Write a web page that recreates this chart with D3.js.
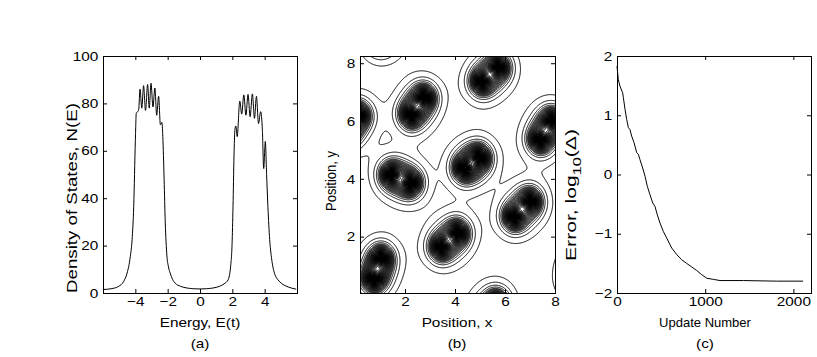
<!DOCTYPE html>
<html>
<head>
<meta charset="utf-8">
<script src="https://cdn.jsdelivr.net/npm/d3@7"></script>
<style>
  body { margin: 0; background: #fff; }
  svg text { font-family: "Liberation Sans", Arial, sans-serif; font-size: 13px; fill: #000; }
</style>
</head>
<body>
<div id="chart"></div>
<script>
// (a) density of states
var dosEnergy = [-5.95, -5.5, -5.03, -4.72, -4.51, -4.31, -4.2, -4.1, -4.0, -3.94, -3.85, -3.79, -3.71, -3.6, -3.49,
  -3.37, -3.24, -3.14, -3.03, -2.91, -2.79, -2.68, -2.56, -2.45, -2.36, -2.3, -2.26, -2.22, -2.15, -2.05, -1.95,
  -1.85, -1.7, -1.54, -1.2, -0.8, -0.4, 0, 0.4, 0.8, 1.2, 1.5, 1.74, 1.89, 1.99, 2.05, 2.11, 2.16, 2.22, 2.3, 2.46,
  2.58, 2.71, 2.84, 2.97, 3.1, 3.24, 3.37, 3.49, 3.62, 3.75, 3.86, 3.94, 4.04, 4.12, 4.2, 4.31, 4.42, 4.51, 4.65,
  4.82, 5.05, 5.33, 5.65, 5.95];
var dosValue = [1.5, 1.8, 2.8, 4.9, 8.4, 15.4, 22.5, 36.5, 64, 76, 76.5, 77.5, 86, 78, 87.5,
  77, 88, 78, 88.5, 78.5, 86.5, 75, 83, 71, 72, 66, 58, 48, 30, 16, 11,
  8.5, 5.8, 4.2, 2.8, 2.1, 1.8, 1.7, 1.8, 2.1, 2.8, 3.9, 5.6, 11, 22, 39, 60, 69, 70.5, 66, 81,
  75.5, 83.6, 75, 83.8, 74.4, 84, 73.7, 83, 71.5, 76.5, 68.5, 52.5, 64, 50, 36.5, 22.5, 15, 11, 7.5,
  5.6, 4.0, 2.9, 2.1, 1.6];
var energyTicks = [-4, -2, 0, 2, 4];
var dosTicks = [0, 20, 40, 60, 80, 100];

// (b) atom positions (pairs) for the density contours
var atomX = [2.74, 2.27, 5.7, 5.1, 7.86, 7.42, 4.94, 4.41, 1.47, 2.2, 6.99, 6.39, 4.08, 3.47, 1.04, 0.77,
  1.0, 1.5, 5.65, 5.15, 0.12, -0.35, 8.85, 9.15];
var atomY = [6.8, 6.23, 7.85, 7.37, 6.0, 5.36, 4.72, 4.38, 4.14, 3.85, 3.21, 2.69, 2.11, 1.65, 1.24, 0.54,
  8.85, 9.4, -0.3, -0.85, 6.2, 5.6, 0.55, 1.2];
var contourLevels = [0.065, 0.12, 0.165, 0.2, 0.23, 0.25, 0.27, 0.29, 0.31, 0.33, 0.35, 0.37, 0.39, 0.41,
  0.43, 0.45, 0.47, 0.49, 0.51, 0.53, 0.55, 0.57, 0.59, 0.61, 0.63, 0.65, 0.67, 0.69, 0.71, 0.73, 0.75,
  0.77, 0.79, 0.81, 0.83, 0.85, 0.87, 0.89, 0.91, 0.93, 0.95, 0.97, 0.99, 1.01, 1.03, 1.05, 1.07];
var posTicks = [2, 4, 6, 8];

// (c) convergence
var updateNum = [0, 15, 34, 64, 72, 91, 110, 129, 147, 166, 193, 223, 242, 261, 291, 318, 344, 374, 405, 431,
  457, 488, 525, 563, 620, 677, 734, 790, 847, 904, 960, 1017, 1093, 1168, 1434, 1812, 2110];
var errLog = [1.83, 1.6, 1.49, 1.38, 1.3, 1.1, 0.93, 0.79, 0.76, 0.65, 0.54, 0.37, 0.34, 0.25, 0.11, -0.03,
  -0.2, -0.34, -0.48, -0.54, -0.68, -0.82, -0.96, -1.07, -1.24, -1.35, -1.44, -1.5, -1.56, -1.62, -1.69,
  -1.75, -1.77, -1.79, -1.79, -1.8, -1.8];
var updateTicks = [0, 1000, 2000];
var errTicks = [-2, -1, 0, 1, 2];

(function () {
  var svg = d3.select("#chart").append("svg")
    .attr("width", 817)
    .attr("height", 357);
  svg.append("rect").attr("width", 817).attr("height", 357).attr("fill", "#fff");

  var plotY = 56, plotH = 237;
  var fmt = d3.format("");
  var stretch = "scale(1.18,1)"; // the original figure is a bit wider than tall

  function panel(left) {
    return svg.append("g").attr("transform", "translate(" + left + "," + plotY + ")");
  }

  // box with inward ticks on all four sides, like matlab
  function frame(g, x, y, xTicks, yTicks) {
    var w = x.range()[1], h = y.range()[0];
    g.append("g").attr("class", "axis").attr("transform", "translate(0," + h + ")")
      .call(d3.axisBottom(x).tickValues(xTicks).tickFormat(fmt).tickSizeInner(-4).tickSizeOuter(0).tickPadding(4))
      .selectAll("text").attr("transform", stretch);
    g.append("g").attr("class", "axis")
      .call(d3.axisTop(x).tickValues(xTicks).tickSizeInner(-4).tickSizeOuter(0).tickFormat(""));
    g.append("g").attr("class", "axis")
      .call(d3.axisLeft(y).tickValues(yTicks).tickFormat(fmt).tickSizeInner(-4).tickSizeOuter(0).tickPadding(4))
      .selectAll("text").attr("transform", stretch);
    g.append("g").attr("class", "axis").attr("transform", "translate(" + w + ",0)")
      .call(d3.axisRight(y).tickValues(yTicks).tickSizeInner(-4).tickSizeOuter(0).tickFormat(""));
    g.selectAll(".axis .domain").remove();
    g.append("rect")
      .attr("x", 0.5).attr("y", 0.5)
      .attr("width", w).attr("height", h)
      .attr("fill", "none").attr("stroke", "#000");
  }

  function labels(xCenter, xText, tag, yBase, yCenter, yText, xStretch) {
    svg.append("text").attr("transform", "translate(" + xCenter + ",327) " + xStretch)
      .attr("text-anchor", "middle").text(xText);
    svg.append("text").attr("transform", "translate(" + xCenter + ",348) " + stretch)
      .attr("text-anchor", "middle").text(tag);
    return svg.append("text")
      .attr("transform", "translate(" + yBase + "," + yCenter + ") " + stretch + " rotate(-90)")
      .attr("text-anchor", "middle")
      .text(yText);
  }

  // ---- (a)
  var ga = panel(103);
  var xa = d3.scaleLinear().domain([-6, 6]).range([0, 194]);
  var ya = d3.scaleLinear().domain([0, 100]).range([plotH, 0]);
  var line = d3.line()
    .x(function (d, i) { return xa(dosEnergy[i]); })
    .y(function (d) { return ya(d); })
    .curve(d3.curveMonotoneX);
  ga.append("path")
    .datum(dosValue)
    .attr("d", line)
    .attr("fill", "none")
    .attr("stroke", "#000")
    .attr("stroke-width", 1);
  frame(ga, xa, ya, energyTicks, dosTicks);
  labels(200, "Energy, E(t)", "(a)", 77, 198, "Density of States, N(E)", stretch)
    .attr("textLength", 190).attr("lengthAdjust", "spacingAndGlyphs");

  // ---- (b)
  var gb = panel(360);
  var xb = d3.scaleLinear().domain([0.2, 8]).range([0, 195]);
  var yb = d3.scaleLinear().domain([0.05, 8.25]).range([plotH, 0]);

  var cell = 0.02, gx0 = -0.1, gy0 = -0.3, nx = 430, ny = 450, decay = 0.32;
  var field = new Float64Array(nx * ny);
  for (var j = 0; j < ny; j++) {
    var py = gy0 + (j + 0.5) * cell;
    for (var i = 0; i < nx; i++) {
      var px = gx0 + (i + 0.5) * cell, s = 0;
      for (var k = 0; k < atomX.length; k++) {
        var dx = px - atomX[k], dy = py - atomY[k];
        s += Math.exp(-Math.sqrt(dx * dx + dy * dy) / decay);
      }
      field[j * nx + i] = s;
    }
  }
  var contours = d3.contours().size([nx, ny]).thresholds(contourLevels)(field);
  var toPlot = d3.geoTransform({
    point: function (cx, cy) {
      this.stream.point(xb(gx0 + cx * cell), yb(gy0 + cy * cell));
    }
  });
  gb.append("clipPath").attr("id", "clipb")
    .append("rect").attr("width", 195).attr("height", plotH);
  gb.append("g").attr("clip-path", "url(#clipb)")
    .selectAll("path")
    .data(contours)
    .enter().append("path")
    .attr("d", d3.geoPath(toPlot))
    .attr("fill", "none")
    .attr("stroke", "#000")
    .attr("stroke-width", 1);
  frame(gb, xb, yb, posTicks, posTicks);
  labels(457, "Position, x", "(b)", 336, 181, "Position, y", stretch);

  // ---- (c)
  var gc = panel(617);
  var xc = d3.scaleLinear().domain([0, 2200]).range([0, 194]);
  var yc = d3.scaleLinear().domain([-2, 2]).range([plotH, 0]);
  gc.append("path")
    .datum(errLog)
    .attr("d", d3.line()
      .x(function (d, i) { return xc(updateNum[i]); })
      .y(function (d) { return yc(d); }))
    .attr("fill", "none")
    .attr("stroke", "#000")
    .attr("stroke-width", 1);
  frame(gc, xc, yc, updateTicks, errTicks);
  var yl = labels(705, "Update Number", "(c)", 576, 195, "", "")
    .attr("textLength", 132).attr("lengthAdjust", "spacingAndGlyphs");
  yl.append("tspan").text("Error, log");
  yl.append("tspan").attr("dy", 4).style("font-size", "10px").text("10");
  yl.append("tspan").attr("dy", -4).text("(\u0394)");
})();
</script>
</body>
</html>
